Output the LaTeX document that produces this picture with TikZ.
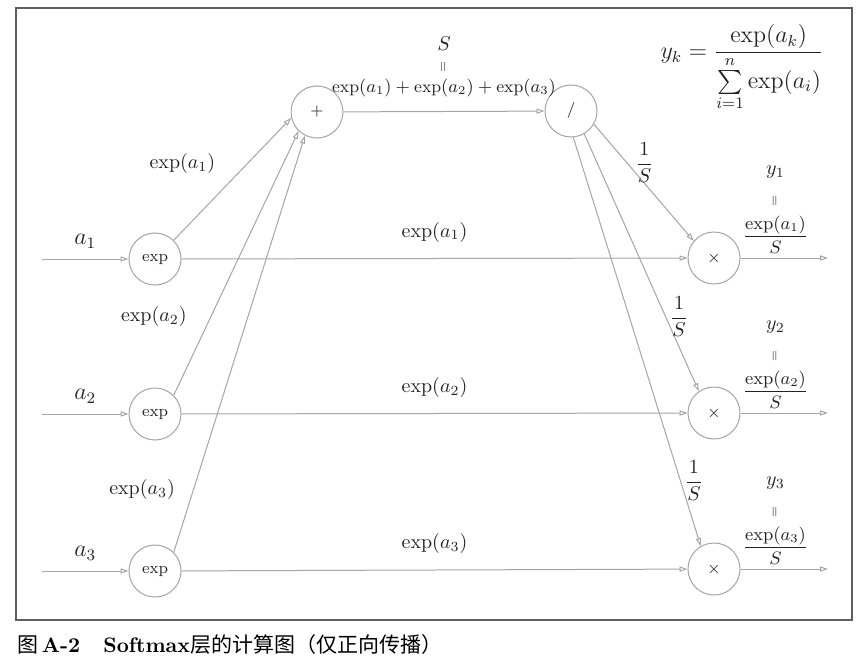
\documentclass[tikz,border=0pt]{standalone}
\usepackage{amsmath,graphicx}
\usepackage{fontspec}
\newfontfamily\cjk{Noto Sans CJK SC}
\usetikzlibrary{arrows.meta,positioning}
\definecolor{lg}{RGB}{165,165,165}
\definecolor{tc}{RGB}{35,35,35}
\definecolor{fc}{RGB}{95,95,95}
\newcommand{\vq}{\scalebox{.7}{\rotatebox{90}{$=$}}}
\tikzset{op/.style={circle,draw=lg,line width=.5pt,minimum size=26pt,inner sep=0pt,font=\footnotesize},
 wire/.style={draw=lg,line width=.5pt},
 arr/.style={wire,-{Triangle[open,length=4pt,width=2.6pt]}},
 lbl/.style={inner sep=1pt},
 eq/.style={lbl,align=center},
 every node/.style={text=tc}}
\begin{document}
\begin{tikzpicture}[x=.5pt,y=-.5pt]
\useasboundingbox (0,0) rectangle (866,668);
\draw[fc,line width=.8pt] (16,8) rectangle (852,620);
% operation nodes
\node[op] (e1) at (155,259) {exp};
\node[op] (e2) at (155,414) {exp};
\node[op] (e3) at (155,571) {exp};
\node[op] (sum) at (317,112) {$+$};
\node[op] (div) at (571,111) {$/$};
\node[op] (m1) at (714,258) {$\times$};
\node[op] (m2) at (714,413) {$\times$};
\node[op] (m3) at (714,569) {$\times$};
\coordinate (i1) at (42,259);\coordinate (i2) at (42,414);\coordinate (i3) at (42,571);
\coordinate (o1) at (828,258);\coordinate (o2) at (828,413);\coordinate (o3) at (828,569);
% inputs
\draw[arr] (i1) -- node[lbl,above=4pt,font=\large] {$a_1$} (e1);
\draw[arr] (i2) -- node[lbl,above=4pt,font=\large] {$a_2$} (e2);
\draw[arr] (i3) -- node[lbl,above=4pt,font=\large] {$a_3$} (e3);
% exp -> sum
\draw[arr] (e1.north east) -- node[lbl,pos=.63,left=15pt] {$\exp(a_1)$} (sum.193);
\draw[arr] (e2.north east) -- node[lbl,pos=.3,left=11pt] {$\exp(a_2)$} (sum.226);
\draw[arr] (e3.north east) -- node[lbl,pos=.15,left=8pt] {$\exp(a_3)$} (sum.243);
% exp -> times
\draw[arr] (e1) -- node[lbl,above=7pt] {$\exp(a_1)$} (m1);
\draw[arr] (e2) -- node[lbl,above=7pt] {$\exp(a_2)$} (m2);
\draw[arr] (e3) -- node[lbl,above=7pt] {$\exp(a_3)$} (m3);
% sum -> div
\draw[arr] (sum) -- node[eq,above=6pt] {$S$\\[-1pt]\vq\\[-2pt]{\fontsize{8.6}{10}\selectfont$\exp(a_1)+\exp(a_2)+\exp(a_3)$}} (div);
% div -> times
\draw[arr] (div.-30) -- node[lbl,pos=.33,right=3pt] {$\dfrac{1}{S}$} (m1.140);
\draw[arr] (div.-60) -- node[lbl,pos=.71,right=1pt] {$\dfrac{1}{S}$} (m2.125);
\draw[arr] (div.-85) -- node[lbl,pos=.84,right=1pt] {$\dfrac{1}{S}$} (m3.120);
% outputs
\draw[arr] (m1) -- node[eq,pos=.4,above=1pt] {$y_1$\\[4pt]\vq\\[4pt]{\small$\dfrac{\exp(a_1)}{S}$}} (o1);
\draw[arr] (m2) -- node[eq,pos=.4,above=1pt] {$y_2$\\[4pt]\vq\\[4pt]{\small$\dfrac{\exp(a_2)}{S}$}} (o2);
\draw[arr] (m3) -- node[eq,pos=.4,above=1pt] {$y_3$\\[4pt]\vq\\[4pt]{\small$\dfrac{\exp(a_3)}{S}$}} (o3);
% softmax formula
\node[font=\large] (fml) at (742,68) {$\displaystyle y_k=\frac{\exp(a_k)}{\sum\limits_{i=1}^{n}\exp(a_i)}$};
% caption
\node[anchor=west,inner sep=0pt,font=\fontsize{10.5}{12}\selectfont,text=black] (cap) at (17,645)
 {{\cjk 图}\,\textbf{A-2}\hspace{1.1em}\textbf{Softmax}{\cjk 层的计算图（仅正向传播）}};
\end{tikzpicture}
\end{document}
